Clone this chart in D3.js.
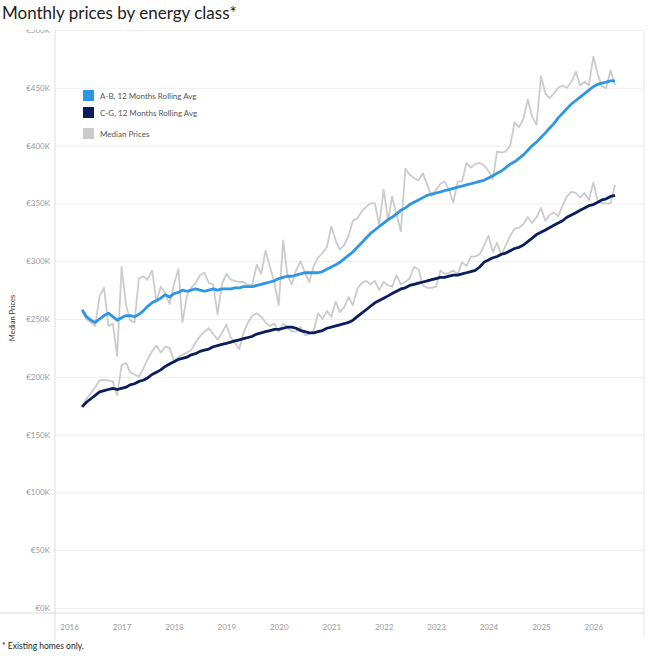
<!DOCTYPE html>
<html>
<head>
<meta charset="utf-8">
<script src="https://cdn.jsdelivr.net/npm/d3@7"></script>
<style>
body { margin: 0; background: #fff; }
text { font-family: Lato, "Open Sans", sans-serif; }
</style>
</head>
<body>
<svg width="650" height="656"></svg>
<script>
// monthly series, Apr 2016 .. Jun 2026, values in €K
const firstMonth = new Date(2016, 3, 1);

const abRolling = [
    258, 252, 249, 247, 250, 253, 255, 252, 249,
    251, 253, 253, 252, 254, 257, 261, 264, 266, 268, 271, 269,
    272, 273, 275, 274, 275, 276, 275, 274, 275, 276, 275, 276,
    276, 276, 277, 277, 278, 278, 278, 279, 280, 281, 282, 283,
    285, 286, 287, 287, 288, 289, 290, 290, 290, 290, 291, 293,
    295, 297, 299, 302, 305, 308, 312, 316, 320, 324, 327, 330,
    333, 336, 338, 341, 344, 346, 349, 351, 353, 355, 357, 358,
    359, 360, 361, 362, 363, 364, 365, 366, 367, 368, 369, 370,
    372, 374, 376, 378, 381, 384, 386, 389, 392, 396, 400, 403,
    407, 411, 415, 419, 424, 428, 432, 436, 439, 442, 445, 448,
    451, 453, 454, 455, 456, 456
];

const cgRolling = [
    174, 178, 181, 184, 187, 188, 189, 190, 189,
    190, 191, 193, 194, 196, 197, 199, 202, 204, 206, 209, 211,
    213, 215, 216, 217, 219, 220, 222, 223, 224, 226, 227, 228,
    229, 230, 231, 232, 233, 234, 235, 237, 238, 239, 240, 241,
    241, 242, 243, 243, 242, 240, 239, 238, 238, 239, 240, 242,
    243, 244, 245, 246, 247, 249, 252, 255, 258, 261, 264, 266,
    268, 270, 272, 274, 276, 277, 279, 280, 281, 282, 283, 284,
    285, 286, 286, 287, 288, 288, 289, 290, 291, 292, 295, 299,
    301, 303, 304, 306, 307, 309, 311, 312, 314, 317, 320, 323,
    325, 327, 329, 331, 333, 335, 338, 340, 342, 344, 346, 348,
    349, 351, 353, 354, 356, 357
];

const abMedian = [
    256, 250, 247, 244, 270, 277, 244, 246, 218,
    295, 262, 249, 247, 285, 287, 284, 292, 265, 278, 272, 263,
    280, 293, 247, 270, 277, 281, 288, 290, 281, 280, 254, 280,
    289, 284, 283, 282, 282, 279, 280, 297, 289, 309, 295, 282,
    262, 318, 288, 280, 292, 300, 290, 282, 296, 303, 307, 312,
    330, 318, 310, 314, 322, 335, 337, 343, 347, 350, 350, 331,
    362, 335, 356, 340, 326, 380, 375, 372, 370, 376, 366, 356,
    362, 367, 369, 362, 351, 369, 369, 385, 381, 384, 385, 383,
    378, 371, 395, 394, 395, 400, 420, 416, 423, 440, 425, 418,
    460, 445, 441, 445, 450, 452, 450, 455, 464, 452, 455, 452,
    477, 462, 451, 450, 465, 452
];

const cgMedian = [
    174, 181, 186, 191, 197, 197, 197, 196, 184,
    210, 212, 204, 202, 200, 207, 215, 222, 227, 221, 226, 225,
    214, 217, 219, 221, 223, 230, 235, 239, 242, 237, 232, 238,
    245, 234, 229, 224, 238, 247, 253, 255, 252, 247, 244, 246,
    239, 246, 243, 239, 239, 243, 236, 237, 240, 255, 250, 257,
    252, 265, 256, 260, 269, 262, 276, 281, 283, 280, 283, 275,
    282, 279, 278, 288, 280, 282, 285, 295, 293, 279, 277, 277,
    278, 292, 289, 290, 292, 289, 299, 296, 304, 304, 306, 313,
    322, 308, 316, 305, 314, 322, 328, 329, 332, 338, 333, 338,
    346, 335, 340, 342, 339, 348, 356, 360, 359, 355, 359, 353,
    368, 352, 350, 350, 350, 366
];

const yTicks = [0, 50, 100, 150, 200, 250, 300, 350, 400, 450, 500];
const yearTicks = [2016, 2017, 2018, 2019, 2020, 2021, 2022, 2023, 2024, 2025, 2026];
const legendLabels = ['A-B, 12 Months Rolling Avg', 'C-G, 12 Months Rolling Avg', 'Median Prices'];

const colors = {ab: '#2e96e6', cg: '#0c1d5c', median: '#cbcbcb'};

const svg = d3.select('svg');
const months = abRolling.map((d, i) => d3.timeMonth.offset(firstMonth, i));

const paneLeft = 55, paneRight = 644, paneTop = 30, zeroY = 608, axisY = 613;

const x = d3.scaleTime()
    .domain([new Date(2015, 8, 25), new Date(2026, 11, 20)])
    .range([paneLeft, paneRight]);

const y = d3.scaleLinear()
    .domain([0, 500])
    .range([zeroY, paneTop]);

// clip in the axis group's own coordinates (it is shifted by paneLeft)
svg.append('clipPath').attr('id', 'pane')
    .append('rect')
    .attr('x', -paneLeft).attr('y', paneTop)
    .attr('width', 650).attr('height', 620);

// y axis with gridlines
const yAxisG = svg.append('g')
    .attr('transform', `translate(${paneLeft},0)`)
    .attr('clip-path', 'url(#pane)')
    .call(d3.axisLeft(y)
        .tickValues(yTicks)
        .tickSize(-(paneRight - paneLeft))
        .tickPadding(5)
        .tickFormat(d => `€${d}K`));
yAxisG.select('.domain').remove();
yAxisG.selectAll('line').attr('stroke', '#ededed');
yAxisG.selectAll('text')
    .attr('fill', '#9a9a9a')
    .style('font-size', '8px');

// x axis
const xAxisG = svg.append('g')
    .attr('transform', `translate(0,${axisY})`)
    .call(d3.axisBottom(x)
        .tickValues(yearTicks.map(yr => new Date(yr, 0, 1)))
        .tickSize(0)
        .tickPadding(11)
        .tickFormat(d3.timeFormat('%Y')));
xAxisG.select('.domain').remove();
xAxisG.selectAll('text')
    .attr('fill', '#9a9a9a')
    .style('font-size', '8px');

// frame lines
svg.append('line')
    .attr('x1', 0).attr('x2', paneRight)
    .attr('y1', axisY).attr('y2', axisY)
    .attr('stroke', '#d9d9d9');
svg.append('line')
    .attr('x1', paneLeft).attr('x2', paneLeft)
    .attr('y1', paneTop).attr('y2', 640)
    .attr('stroke', '#dcdcdc');
svg.append('line')
    .attr('x1', paneRight).attr('x2', paneRight)
    .attr('y1', paneTop).attr('y2', 636)
    .attr('stroke', '#e6e6e6');

const line = d3.line()
    .x((d, i) => x(months[i]))
    .y(d => y(d));

const series = [
    {values: abMedian, color: colors.median, width: 1.8},
    {values: cgMedian, color: colors.median, width: 1.8},
    {values: cgRolling, color: colors.cg, width: 2.8},
    {values: abRolling, color: colors.ab, width: 2.8}
];

svg.append('g').selectAll('path')
    .data(series)
    .enter().append('path')
        .attr('d', d => line(d.values))
        .attr('fill', 'none')
        .attr('stroke', d => d.color)
        .attr('stroke-width', d => d.width)
        .attr('stroke-linejoin', 'round');

// legend
const legendTop = [90, 107, 128];
const legendColors = [colors.ab, colors.cg, colors.median];
const legend = svg.append('g');
legendLabels.forEach((label, i) => {
    legend.append('rect')
        .attr('x', 83).attr('y', legendTop[i])
        .attr('width', 11).attr('height', 11)
        .attr('fill', legendColors[i]);
    legend.append('text')
        .attr('x', 100).attr('y', legendTop[i] + 8.5)
        .attr('fill', '#555')
        .style('font-size', '8px')
        .text(label);
});

// titles
svg.append('text')
    .attr('x', 2).attr('y', 19)
    .attr('fill', '#222')
    .style('font-size', '17px')
    .text('Monthly prices by energy class*');

svg.append('text')
    .attr('transform', 'translate(15,318) rotate(-90)')
    .attr('text-anchor', 'middle')
    .attr('fill', '#333')
    .style('font-size', '7.5px')
    .text('Median Prices');

svg.append('text')
    .attr('x', 2).attr('y', 649)
    .attr('fill', '#222')
    .style('font-size', '8.5px')
    .text('* Existing homes only.');
</script>
</body>
</html>
